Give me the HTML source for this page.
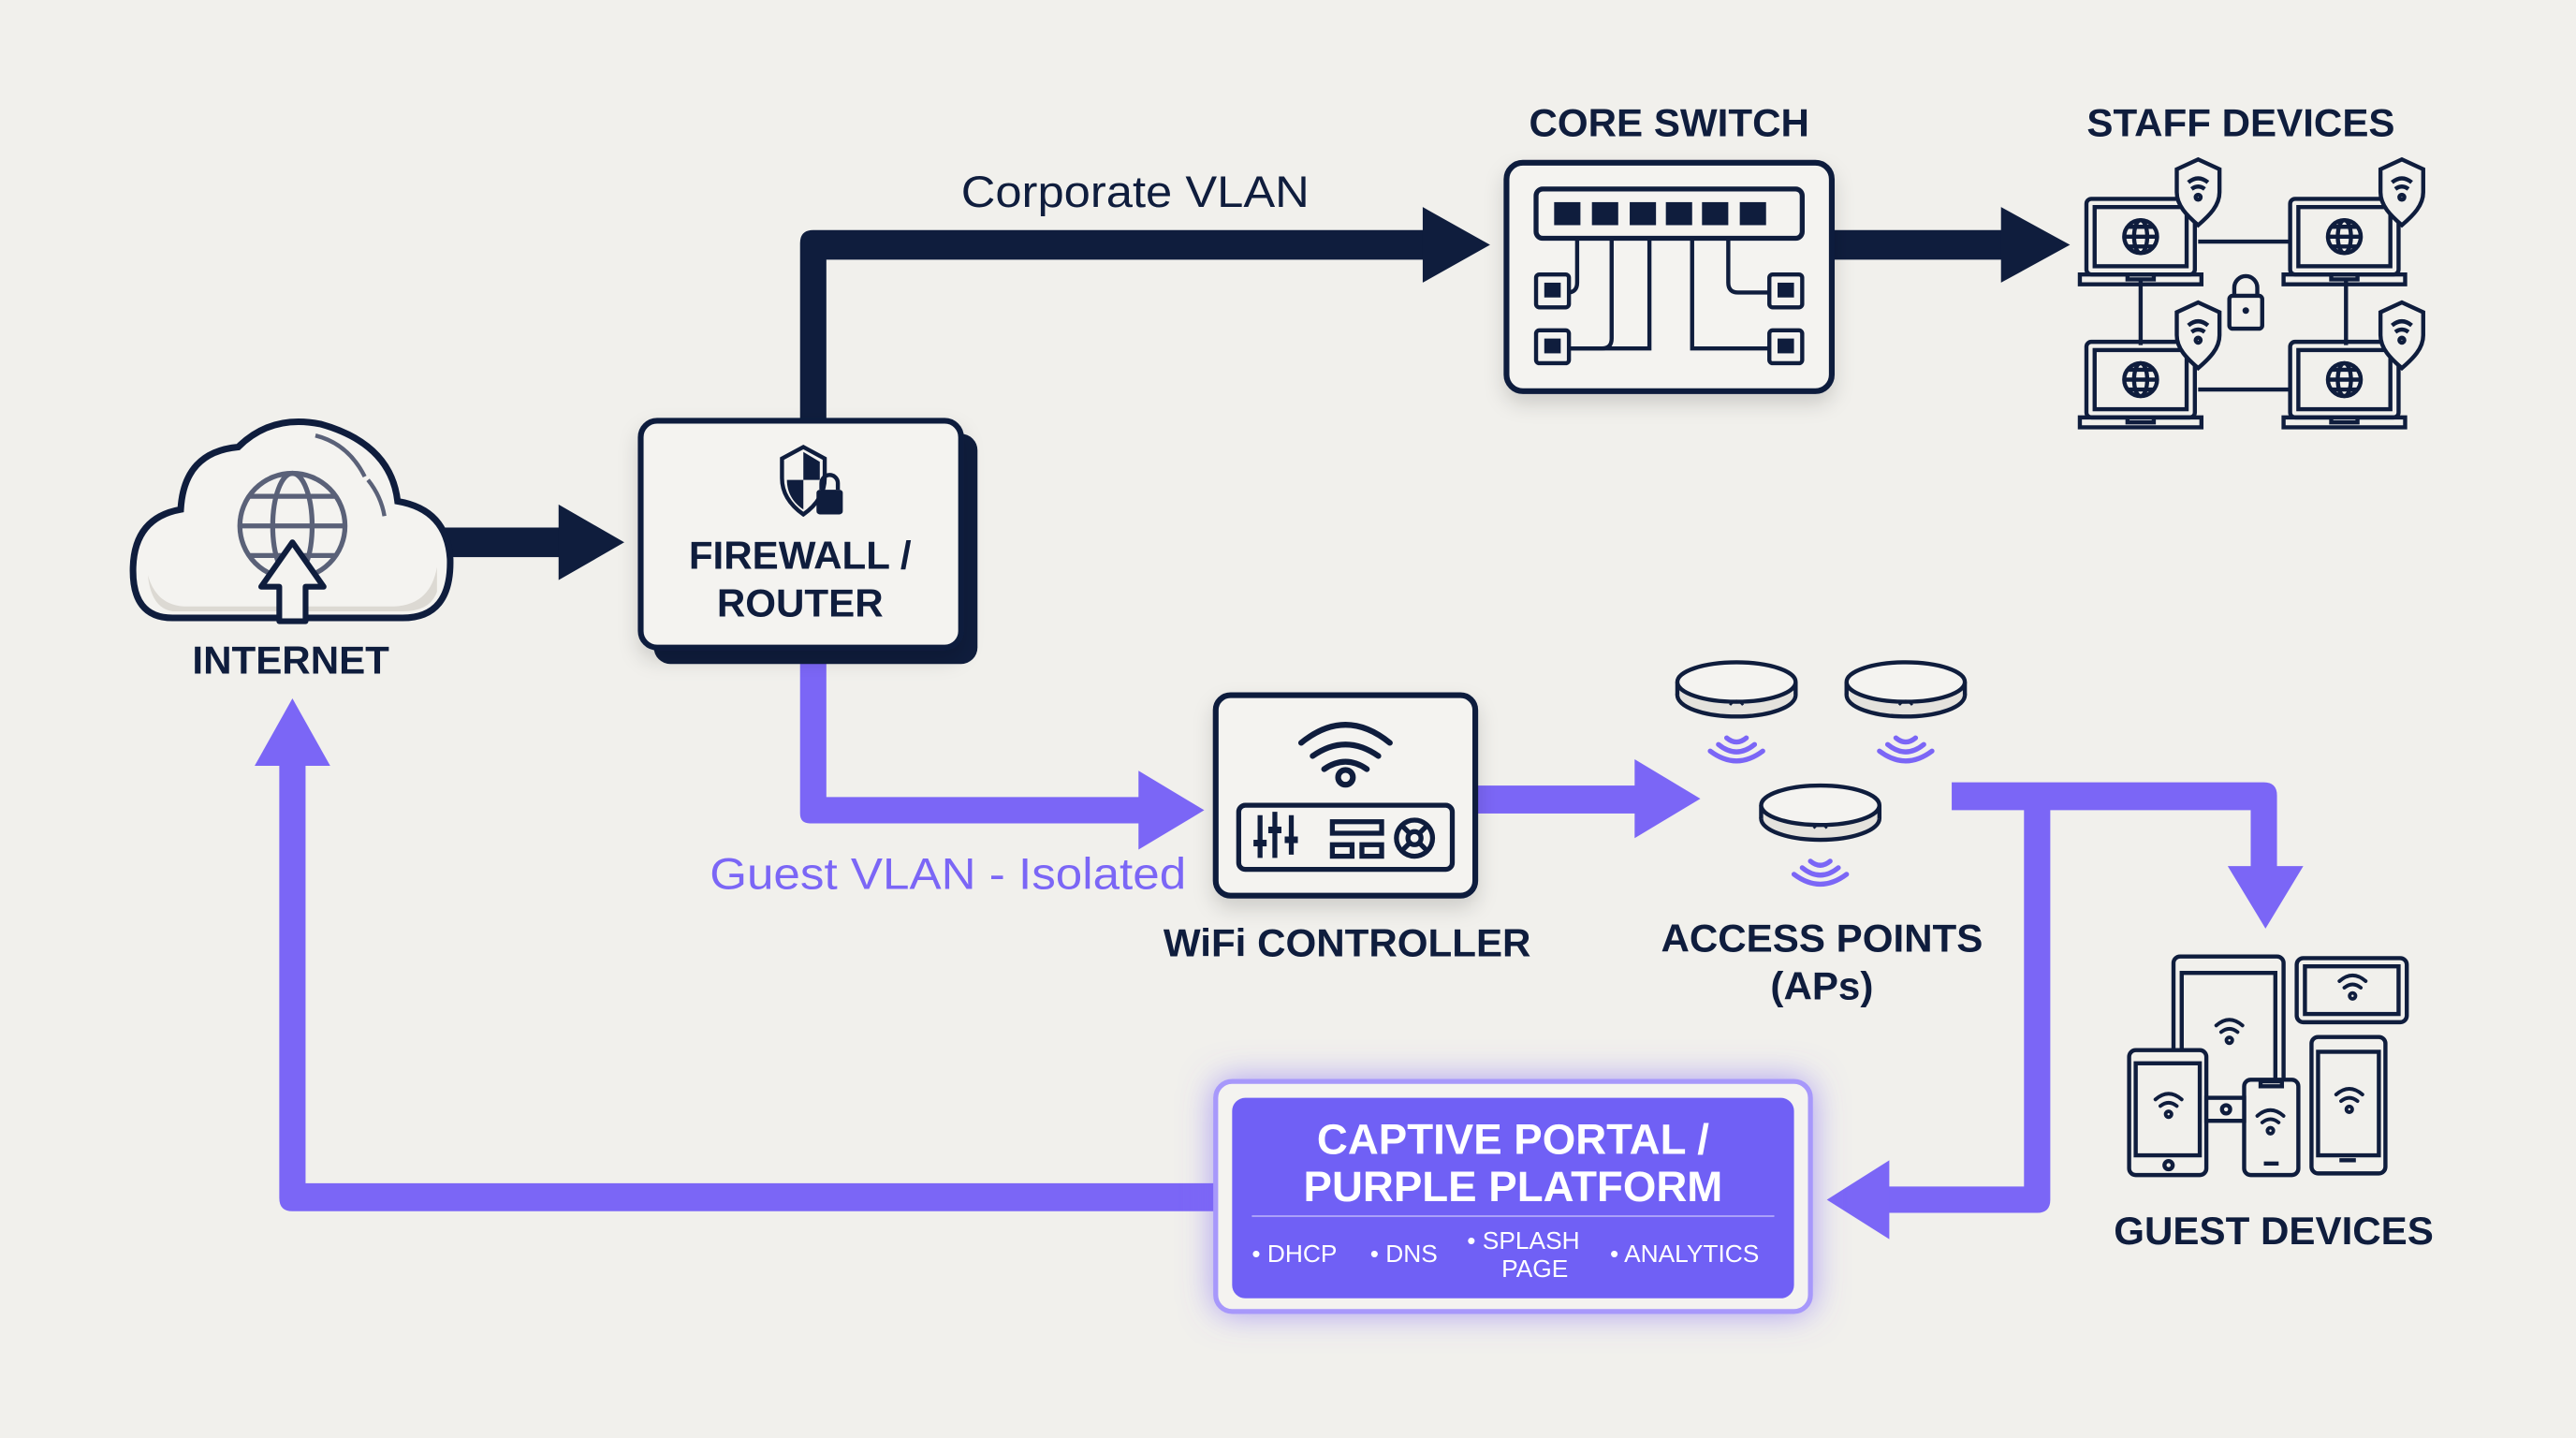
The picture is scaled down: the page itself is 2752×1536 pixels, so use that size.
<!DOCTYPE html>
<html><head><meta charset="utf-8"><style>
html,body{margin:0;padding:0;background:#f1f0ec;}
svg{display:block}
text{font-family:"Liberation Sans",sans-serif;}
.t{font-weight:bold;fill:#0f1d3d;font-size:24px;text-anchor:middle;}
</style></head><body>
<svg width="2752" height="1536" viewBox="0 0 1568 875" preserveAspectRatio="none" xmlns="http://www.w3.org/2000/svg">
<defs>
<filter id="sh" x="-20%" y="-20%" width="140%" height="150%"><feDropShadow dx="0" dy="6" stdDeviation="6" flood-color="#000" flood-opacity="0.15"/></filter>
<filter id="glow" x="-20%" y="-30%" width="140%" height="160%"><feDropShadow dx="0" dy="0" stdDeviation="10" flood-color="#7b66f6" flood-opacity="0.6"/></filter>
<g id="laptop" fill="none" stroke="#0f1d3d" stroke-width="2.5">
  <rect x="0" y="0" width="66" height="46" rx="3"/>
  <rect x="5" y="5" width="56" height="36"/>
  <path d="M-4 46 H70 V52 H-4 Z"/>
  <path d="M25 46 v3 h16 v-3"/>
  <circle cx="33" cy="23" r="10"/><ellipse cx="33" cy="23" rx="4" ry="10"/><path d="M23 23 H43 M25 17 H41 M25 29 H41"/>
  <path d="M55 -18 l13 -6 l13 6 v14 c0 8 -6 14 -13 20 c-7 -6 -13 -12 -13 -20 Z" fill="#f1f0ec"/>
  <path d="M62 -10 q6 -5 12 0 M64 -6 q4 -3 8 0" /><circle cx="68" cy="-1" r="1.5"/>
</g>
<g id="wifi" fill="none" stroke="#0f1d3d" stroke-width="2.2" stroke-linecap="round">
  <path d="M-8 -4 q8 -7 16 0 M-5 0 q5 -4 10 0"/><circle cx="0" cy="5" r="1.8"/>
</g>
<g id="ap">
  <ellipse cx="0" cy="8" rx="36" ry="13" fill="#e4e2dd" stroke="#0f1d3d" stroke-width="2.5"/>
  <rect x="-36" y="0" width="72" height="8" fill="#e4e2dd"/>
  <path d="M-36 0 V8 M36 0 V8" stroke="#0f1d3d" stroke-width="2.5"/>
  <ellipse cx="0" cy="0" rx="36" ry="12" fill="#f4f3f0" stroke="#0f1d3d" stroke-width="2.5"/>
  <path d="M-4 14 q4 -5 8 0" fill="none" stroke="#0f1d3d" stroke-width="1.5"/>
  <g fill="none" stroke="#7b66f6" stroke-width="3" stroke-linecap="round"><path d="M-6 34 q6 5 12 0 M-11 38 q11 9 22 0 M-16 42 q16 12 32 0"/></g>
</g>
</defs>
<rect width="1568" height="875" fill="#f1f0ec"/>

<path d="M487 256 V148 Q487 140 495 140 H870 V158 H503 V256 Z" fill="#0f1d3d"/>
<path d="M866 126 L907 149 L866 172 Z" fill="#0f1d3d"/>
<text x="585" y="126" font-size="27" fill="#0f1d3d" textLength="212" lengthAdjust="spacingAndGlyphs">Corporate VLAN</text>
<rect x="268" y="321" width="74" height="18" fill="#0f1d3d"/>
<path d="M340 307 L380 330 L340 353 Z" fill="#0f1d3d"/>
<rect x="1113" y="140" width="110" height="18" fill="#0f1d3d"/>
<path d="M1218 126 L1260 149 L1218 172 Z" fill="#0f1d3d"/>

<g fill="#7b66f6">
<path d="M487 400 V495 Q487 501 493 501 H698 V485 H503 V400 Z"/>
<path d="M693 469 L733 493 L693 517 Z"/>
<rect x="896" y="478" width="102" height="17"/>
<path d="M995 462 L1035 486 L995 510 Z"/>
<path d="M1188 476 H1378 Q1386 476 1386 484 V532 H1370 V493 H1248 V730 Q1248 738 1240 738 H1145 V722 H1232 V493 H1188 Z"/>
<path d="M1356 527 L1379 565 L1402 527 Z"/>
<path d="M1150 706 L1112 730 L1150 754 Z"/>
<path d="M742 737 H178 Q170 737 170 729 V462 H186 V720 H742 Z"/>
<path d="M155 466 L178 425 L201 466 Z"/>
</g>
<text x="432" y="541" font-size="27" fill="#7b66f6" textLength="290" lengthAdjust="spacingAndGlyphs">Guest VLAN - Isolated</text>

<g>
<path d="M105 376 Q80 376 81 345 Q82 315 110 310 Q112 275 145 272 Q165 252 195 258 Q238 270 242 305 Q272 310 274 340 Q275 376 245 376 Z" fill="#f4f3f0" stroke="#0f1d3d" stroke-width="4"/>
<path d="M90 350 Q95 368 112 369 H240 Q262 368 266 345 V360 Q262 372 245 372 H105 Q92 370 90 350Z" fill="#dcd9d3"/>
<path d="M192 265 q20 5 30 25 M224 292 q8 10 10 22" fill="none" stroke="#5a6178" stroke-width="2.5"/>
<g fill="none" stroke="#5a6178" stroke-width="3"><circle cx="178" cy="320" r="32"/><ellipse cx="178" cy="320" rx="12" ry="32"/><path d="M146 320 H210 M152 302 H204 M152 338 H204"/></g>
<path d="M178 330 L197 357 H186 V378 H170 V357 H159 Z" fill="#f4f3f0" stroke="#0f1d3d" stroke-width="3.5" stroke-linejoin="round"/>
</g>
<text x="177" y="410" class="t" font-size="24">INTERNET</text>

<rect x="398" y="264" width="197" height="140" rx="10" fill="#0f1d3d"/>
<rect x="390" y="256" width="195" height="138" rx="10" fill="#f4f3f0" stroke="#0f1d3d" stroke-width="3.5" filter="url(#sh)"/>
<path d="M476 279 l13 -7 l13 7 v12 c0 10 -6 17 -13 22 c-7 -5 -13 -12 -13 -22 Z" fill="#f4f3f0" stroke="#0f1d3d" stroke-width="2.5"/>
<path d="M489 275 v17 h10 v-3 c0 -4 0 -6 0 -8Z M479 292 h10 v18 c-6 -4 -10 -10 -10 -18Z" fill="#0f1d3d"/>
<rect x="497" y="298" width="16" height="15" rx="2" fill="#0f1d3d"/><path d="M500 298 v-4 a5 5 0 0 1 10 0 v4" fill="none" stroke="#0f1d3d" stroke-width="2.5"/>
<text x="487" y="346" class="t" font-size="26">FIREWALL /</text>
<text x="487" y="375" class="t" font-size="26">ROUTER</text>

<rect x="917" y="99" width="198" height="139" rx="10" fill="#f4f3f0" stroke="#0f1d3d" stroke-width="3.5" filter="url(#sh)"/>
<text x="1016" y="83" class="t" font-size="25">CORE SWITCH</text>
<rect x="935" y="115" width="162" height="30" rx="4" fill="none" stroke="#0f1d3d" stroke-width="3"/>
<g fill="#0f1d3d">
<rect x="946" y="123" width="16" height="14"/><rect x="969" y="123" width="16" height="14"/><rect x="992" y="123" width="16" height="14"/><rect x="1014" y="123" width="16" height="14"/><rect x="1036" y="123" width="16" height="14"/><rect x="1059" y="123" width="16" height="14"/>
</g>
<g fill="none" stroke="#0f1d3d" stroke-width="2.5">
<path d="M960 145 V172 Q960 178 954 178 H955"/><path d="M981 145 V206 Q981 212 975 212 H955"/><path d="M1004 145 V212 H955"/>
<path d="M1030 145 V212 H1078"/><path d="M1052 145 V172 Q1052 178 1058 178 H1078"/>
<rect x="935" y="167" width="20" height="20" rx="2"/><rect x="935" y="201" width="20" height="20" rx="2"/><rect x="1077" y="167" width="20" height="20" rx="2"/><rect x="1077" y="201" width="20" height="20" rx="2"/>
</g>
<g fill="#0f1d3d"><rect x="940" y="172" width="10" height="9"/><rect x="940" y="206" width="10" height="9"/><rect x="1082" y="172" width="10" height="9"/><rect x="1082" y="206" width="10" height="9"/></g>

<text x="1364" y="83" class="t" font-size="25">STAFF DEVICES</text>
<g stroke="#0f1d3d" stroke-width="2.5"><path d="M1338 147 H1393 M1338 237 H1393 M1303 170 V210 M1428 170 V210"/></g>
<rect x="1357" y="180" width="20" height="20" rx="2" fill="none" stroke="#0f1d3d" stroke-width="2.5"/><path d="M1360 180 v-5 a7 7 0 0 1 14 0 v5" fill="none" stroke="#0f1d3d" stroke-width="2.5"/><circle cx="1367" cy="189" r="2" fill="#0f1d3d"/>
<use href="#laptop" x="1270" y="121"/><use href="#laptop" x="1394" y="121"/><use href="#laptop" x="1270" y="208"/><use href="#laptop" x="1394" y="208"/>

<rect x="740" y="423" width="158" height="122" rx="9" fill="#f4f3f0" stroke="#0f1d3d" stroke-width="3.5" filter="url(#sh)"/>
<g fill="none" stroke="#0f1d3d" stroke-width="3.5" stroke-linecap="round"><path d="M792 452 q27 -22 54 0 M799 460 q20 -14 40 0 M806 468 q13 -9 26 0"/><circle cx="819" cy="473" r="4.5"/></g>
<rect x="754" y="490" width="130" height="39" rx="4" fill="none" stroke="#0f1d3d" stroke-width="3"/>
<g stroke="#0f1d3d" stroke-width="3"><path d="M767 496 V522 M776 494 V522 M786 496 V520"/></g>
<g fill="#0f1d3d"><rect x="763" y="511" width="8" height="4"/><rect x="772" y="503" width="8" height="4"/><rect x="782" y="509" width="8" height="4"/></g>
<g fill="none" stroke="#0f1d3d" stroke-width="3"><rect x="811" y="500" width="30" height="7"/><rect x="811" y="514" width="12" height="7"/><rect x="829" y="514" width="12" height="7"/><circle cx="861" cy="510" r="11"/><circle cx="861" cy="510" r="4"/><path d="M854 503 l4 4 M868 503 l-4 4 M854 517 l4 -4 M868 517 l-4 -4"/></g>
<text x="820" y="582" class="t" font-size="25">WiFi CONTROLLER</text>

<use href="#ap" x="1057" y="415"/><use href="#ap" x="1160" y="415"/><use href="#ap" x="1108" y="490"/>
<text x="1109" y="579" class="t" font-size="25">ACCESS POINTS</text>
<text x="1109" y="608" class="t" font-size="25">(APs)</text>

<g fill="#f1f0ec" stroke="#0f1d3d" stroke-width="2.5">
<rect x="1323" y="582" width="67" height="96" rx="4"/><rect x="1328" y="592" width="57" height="78"/>
<rect x="1398" y="583" width="67" height="39" rx="4"/><rect x="1403" y="588" width="57" height="29"/>
<rect x="1296" y="639" width="47" height="76" rx="4"/><rect x="1300" y="647" width="39" height="56"/><circle cx="1320" cy="709" r="2.5"/>
<rect x="1407" y="631" width="45" height="83" rx="4"/><rect x="1411" y="640" width="37" height="63"/><path d="M1424 706 h10"/>
<rect x="1366" y="657" width="33" height="58" rx="4"/><path d="M1376 658 h13 v3 h-13z"/><path d="M1378 708 h9"/>
<rect x="1343" y="668" width="23" height="14"/><circle cx="1355" cy="675" r="2.5"/>
</g>
<use href="#wifi" x="1357" y="628"/><use href="#wifi" x="1432" y="601"/><use href="#wifi" x="1320" y="673"/><use href="#wifi" x="1382" y="683"/><use href="#wifi" x="1430" y="670"/>
<text x="1384" y="757" class="t" font-size="25">GUEST DEVICES</text>

<rect x="740" y="658" width="362" height="140" rx="10" fill="#f4f3f0" stroke="#a798fb" stroke-width="3" filter="url(#glow)"/>
<rect x="750" y="668" width="342" height="122" rx="8" fill="#7060f5"/>
<text x="921" y="702" font-size="26" font-weight="bold" fill="#fff" text-anchor="middle">CAPTIVE PORTAL /</text>
<text x="921" y="731" font-size="26" font-weight="bold" fill="#fff" text-anchor="middle">PURPLE PLATFORM</text>
<path d="M762 740 H1080" stroke="#b3a9fb" stroke-width="1"/>
<g fill="#fff" font-size="15">
<text x="762" y="768">• DHCP</text><text x="834" y="768">• DNS</text>
<text x="893" y="760">• SPLASH</text><text x="914" y="777">PAGE</text>
<text x="980" y="768">• ANALYTICS</text>
</g>
</svg>
</body></html>
